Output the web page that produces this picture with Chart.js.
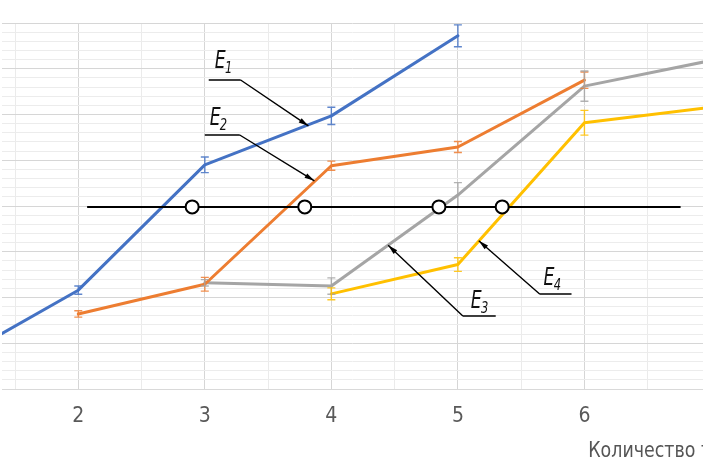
<!DOCTYPE html>
<html><head><meta charset="utf-8">
<script src="https://cdn.jsdelivr.net/npm/chart.js@4.4.1/dist/chart.umd.min.js"></script>
<style>html,body{margin:0;padding:0;background:#fff;overflow:hidden}</style>
</head><body>
<canvas id="c" width="703" height="469"></canvas>
<script>
// ---- data ----
const seriesNames = ['E1', 'E2', 'E3', 'E4'];
const xE1 = [1, 2, 3, 4, 5];
const yE1 = [0.59, 2.16, 4.90, 5.97, 7.72];
const errE1 = [0.10, 0.09, 0.17, 0.19, 0.24];
const xE2 = [2, 3, 4, 5, 6];
const yE2 = [1.64, 2.29, 4.88, 5.29, 6.75];
const errE2 = [0.07, 0.15, 0.10, 0.12, 0.18];
const xE3 = [3, 4, 5, 6, 7];
const yE3 = [2.32, 2.25, 4.24, 6.62, 7.18];
const errE3 = [0.07, 0.18, 0.27, 0.33, 0.30];
const xE4 = [4, 5, 6, 7];
const yE4 = [2.08, 2.72, 5.82, 6.16];
const errE4 = [0.13, 0.15, 0.27, 0.25];
const xTickValues = [2, 3, 4, 5, 6];
const xTickLabels = ['2', '3', '4', '5', '6'];
const thresholdY = 3.98;
const thresholdX = [2.07, 6.76];
const crossX = [2.90, 3.79, 4.85, 5.35];
const xTitle = 'Количество точек';

const colors = ['#4472C4', '#ED7D31', '#A5A5A5', '#FFC000'];
const xs = [xE1, xE2, xE3, xE4];
const ys = [yE1, yE2, yE3, yE4];
const errs = [errE1, errE2, errE3, errE4];

// annotation placement (data units)
const notes = [
  {sub: '1', lx: 3.079, ly: 7.02, u0: 3.031, u1: 3.283, uy: 6.754, from: 'right', tx: 3.819, ty: 5.75},
  {sub: '2', lx: 3.039, ly: 5.77, u0: 3.000, u1: 3.276, uy: 5.552, from: 'right', tx: 3.866, ty: 4.55},
  {sub: '3', lx: 5.102, ly: 1.77, u0: 5.039, u1: 5.299, uy: 1.596, from: 'left', tx: 4.449, ty: 3.14},
  {sub: '4', lx: 5.677, ly: 2.27, u0: 5.646, u1: 5.898, uy: 2.077, from: 'left', tx: 5.165, ty: 3.24}
];

const FONT = "'DejaVu Sans Condensed', 'DejaVu Sans', sans-serif";

const datasets = seriesNames.map((n, i) => ({
  label: n,
  data: xs[i].map((v, j) => ({x: v, y: ys[i][j]})),
  borderColor: colors[i],
  backgroundColor: colors[i],
  borderWidth: 3,
  pointRadius: 0,
  tension: 0,
  fill: false,
  borderJoinStyle: 'round',
  borderCapStyle: 'round'
}));

const overlay = {
  id: 'overlay',
  afterDatasetsDraw(chart) {
    const {ctx, chartArea: a, scales: {x, y}} = chart;
    ctx.save();
    ctx.beginPath();
    ctx.rect(a.left, a.top, a.right - a.left, a.bottom - a.top);
    ctx.clip();
    // error bars
    chart.data.datasets.forEach((ds, i) => {
      const err = errs[i];
      ctx.strokeStyle = ds.borderColor;
      ctx.globalAlpha = 0.85;
      ctx.lineWidth = 1.4;
      ds.data.forEach((p, j) => {
        const px = x.getPixelForValue(p.x);
        const y1 = y.getPixelForValue(p.y + err[j]);
        const y2 = y.getPixelForValue(p.y - err[j]);
        ctx.beginPath();
        ctx.moveTo(px, y1); ctx.lineTo(px, y2);
        ctx.moveTo(px - 4, y1); ctx.lineTo(px + 4, y1);
        ctx.moveTo(px - 4, y2); ctx.lineTo(px + 4, y2);
        ctx.stroke();
      });
    });
    ctx.globalAlpha = 1;
    // threshold line
    const ty = y.getPixelForValue(thresholdY);
    ctx.strokeStyle = '#000';
    ctx.lineWidth = 2;
    ctx.beginPath();
    ctx.moveTo(x.getPixelForValue(thresholdX[0]), ty);
    ctx.lineTo(x.getPixelForValue(thresholdX[1]), ty);
    ctx.stroke();
    crossX.forEach(cx => {
      ctx.beginPath();
      ctx.arc(x.getPixelForValue(cx), ty, 6.5, 0, Math.PI * 2);
      ctx.fillStyle = '#fff';
      ctx.fill();
      ctx.stroke();
    });
    ctx.restore();

    // annotations
    ctx.save();
    ctx.strokeStyle = '#000';
    ctx.fillStyle = '#000';
    ctx.lineWidth = 1.4;
    notes.forEach(n => {
      const uy = y.getPixelForValue(n.uy);
      const u0 = x.getPixelForValue(n.u0), u1 = x.getPixelForValue(n.u1);
      const sx = n.from === 'right' ? u1 : u0;
      const tx = x.getPixelForValue(n.tx), tyy = y.getPixelForValue(n.ty);
      ctx.beginPath();
      ctx.moveTo(u0, uy); ctx.lineTo(u1, uy);
      ctx.moveTo(sx, uy); ctx.lineTo(tx, tyy);
      ctx.stroke();
      const ang = Math.atan2(tyy - uy, tx - sx);
      const L = 10, W = 2.6;
      ctx.beginPath();
      ctx.moveTo(tx, tyy);
      ctx.lineTo(tx - L * Math.cos(ang) + W * Math.sin(ang), tyy - L * Math.sin(ang) - W * Math.cos(ang));
      ctx.lineTo(tx - L * Math.cos(ang) - W * Math.sin(ang), tyy - L * Math.sin(ang) + W * Math.cos(ang));
      ctx.closePath();
      ctx.fill();
      // label
      const lx = x.getPixelForValue(n.lx), ly = y.getPixelForValue(n.ly);
      ctx.save();
      ctx.translate(lx, ly);
      ctx.scale(0.8, 1);
      ctx.font = "italic 24px 'DejaVu Sans Condensed', 'DejaVu Sans', sans-serif";
      ctx.textBaseline = 'alphabetic';
      ctx.textAlign = 'left';
      ctx.fillStyle = '#111';
      ctx.fillText('E', 0, 0);
      const w = ctx.measureText('E').width;
      ctx.font = "italic 16px 'DejaVu Sans Condensed', 'DejaVu Sans', sans-serif";
      ctx.fillText(n.sub, w - 1, 5);
      ctx.restore();
    });
    ctx.restore();
  },
  afterDraw(chart) {
    const {ctx, scales: {x}} = chart;
    ctx.save();
    ctx.translate(x.getPixelForValue(6.03), 457);
    ctx.scale(0.88, 1);
    ctx.font = "22px 'DejaVu Sans Condensed', 'DejaVu Sans', sans-serif";
    ctx.fillStyle = '#555';
    ctx.textAlign = 'left';
    ctx.textBaseline = 'alphabetic';
    ctx.fillText(xTitle, 0, 0);
    ctx.restore();
  }
};

new Chart(document.getElementById('c'), {
  type: 'line',
  data: {datasets},
  options: {
    responsive: false,
    animation: false,
    devicePixelRatio: 1,
    events: [],
    layout: {padding: {top: 23, left: 0, right: 0, bottom: 0}},
    plugins: {legend: {display: false}, tooltip: {enabled: false}},
    scales: {
      x: {
        type: 'linear',
        min: 1.398,
        max: 6.937,
        bounds: 'data',
        afterBuildTicks: s => {
          const t = [];
          for (let v = 1.5; v <= 6.5 + 1e-9; v += 0.5) t.push({value: Math.round(v * 10) / 10});
          s.ticks = t;
        },
        afterFit: s => { s.height = 80; },
        border: {display: true, color: '#d9d9d9', width: 1},
        grid: {
          drawTicks: false,
          color: c => (c.tick && Number.isInteger(c.tick.value)) ? '#d6d6d6' : '#ebebeb',
          lineWidth: 1
        },
        ticks: {
          autoSkip: false,
          maxRotation: 0,
          padding: 15,
          color: '#595959',
          font: {family: FONT, size: 21},
          callback: v => {
            const k = xTickValues.indexOf(v);
            return k >= 0 ? xTickLabels[k] : '';
          }
        }
      },
      y: {
        type: 'linear',
        min: 0,
        max: 8,
        bounds: 'data',
        afterBuildTicks: s => {
          const t = [];
          for (let k = 0; k <= 40; k++) t.push({value: k / 5});
          s.ticks = t;
        },
        afterFit: s => { s.width = 0; },
        border: {display: false},
        grid: {
          drawTicks: false,
          color: c => (c.tick && Math.abs(c.tick.value - Math.round(c.tick.value)) < 1e-6) ? '#d6d6d6' : '#ececec',
          lineWidth: 1
        },
        ticks: {display: false}
      }
    }
  },
  plugins: [overlay]
});
</script>
</body></html>
